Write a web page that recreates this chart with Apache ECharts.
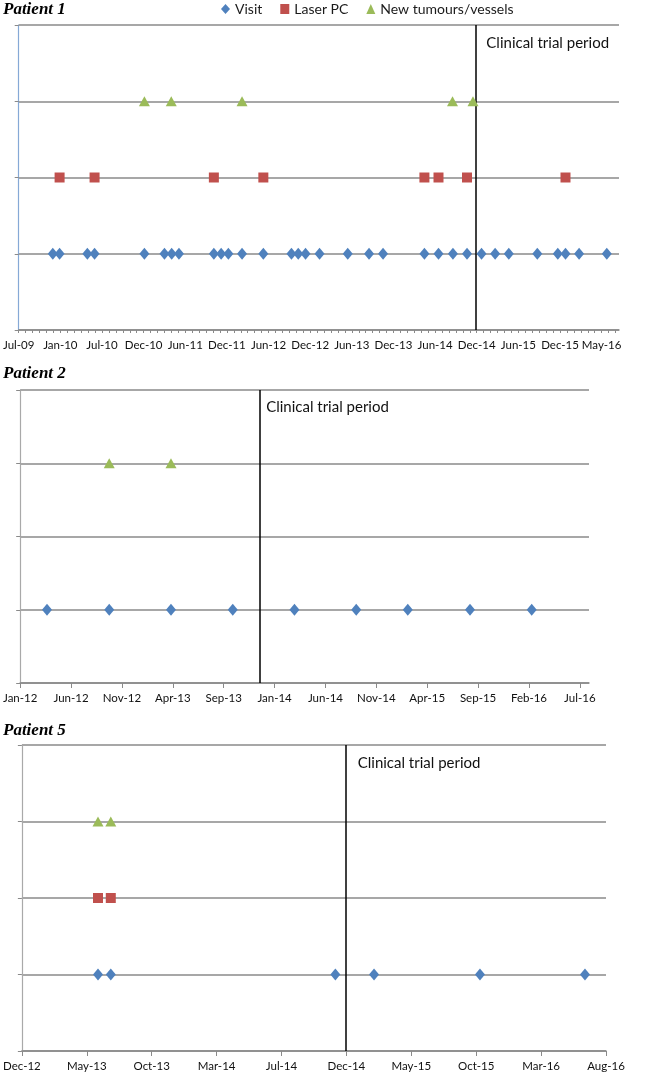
<!DOCTYPE html>
<html><head><meta charset="utf-8">
<script src="https://cdn.jsdelivr.net/npm/echarts@6/dist/echarts.min.js"></script>
<style>html,body{margin:0;padding:0;background:#fff}#c{width:669px;height:1075px}</style>
</head><body><div id="c"></div>
<script>
// Patient 1: x in month-steps from Jul-09 (a label every 6 steps)
const p1Labels = ['Jul-09','Jan-10','Jul-10','Dec-10','Jun-11','Dec-11','Jun-12','Dec-12','Jun-13','Dec-13','Jun-14','Dec-14','Jun-15','Dec-15','May-16'];
const p1Visit = [4.91,5.89,9.89,10.93,18.11,21.0,22.04,23.09,28.12,29.17,30.21,32.18,35.25,39.3,40.28,41.33,43.35,47.41,50.48,52.5,58.46,60.49,62.57,64.6,66.69,68.65,70.62,74.73,77.68,78.79,80.75,84.74];
const p1Laser = [5.89,10.93,28.12,35.25,58.46,60.49,64.6,78.79];
const p1New = [18.11,21.98,32.18,62.51,65.46];
const p1Trial = 65.8;
const p1End = 86.5;
const p1Step = 6;

// Patient 2: x in label steps from Jan-12
const p2Labels = ['Jan-12','Jun-12','Nov-12','Apr-13','Sep-13','Jan-14','Jun-14','Nov-14','Apr-15','Sep-15','Feb-16','Jul-16'];
const p2Visit = [0.527,1.750,2.964,4.178,5.391,6.605,7.618,8.841,10.054];
const p2Laser = [];
const p2New = [1.750,2.964];
const p2Trial = 4.697;
const p2End = 11.18;

// Patient 5: x in label steps from Dec-12
const p5Labels = ['Dec-12','May-13','Oct-13','Mar-14','Jul-14','Dec-14','May-15','Oct-15','Mar-16','Aug-16'];
const p5Visit = [1.173,1.370,4.830,5.426,7.058,8.676];
const p5Laser = [1.173,1.370];
const p5New = [1.173,1.370];
const p5Trial = 4.99;
const p5End = 9;

// row (y level) of each event type
const levelVisit = 1, levelLaser = 2, levelNew = 3;
const trialLabelLevel = 3.76;
const trialText = 'Clinical trial period';
const titles = ['Patient 1','Patient 2','Patient 5'];

const FONT = 'Lato, "Open Sans", sans-serif';
const GRID = '#8a8a8a';
const C_VISIT = '#4F81BD', C_LASER = '#C0504D', C_NEW = '#9BBB59';

const patients = [
  {labels:p1Labels, visit:p1Visit, laser:p1Laser, nw:p1New, trial:p1Trial, end:p1End, step:p1Step, grid:{left:18, top:25, width:601, height:305}, yLine:'#86a9d6', dist:11},
  {labels:p2Labels, visit:p2Visit, laser:p2Laser, nw:p2New, trial:p2Trial, end:p2End, step:1, grid:{left:18, top:390, width:571, height:293}, yLine:'#a9a9a9', dist:7},
  {labels:p5Labels, visit:p5Visit, laser:p5Laser, nw:p5New, trial:p5Trial, end:p5End, step:1, grid:{left:19, top:745, width:587, height:306}, yLine:'#a9a9a9', dist:12}
];
const titleTops = [1, 365, 722];

const option = {
  animation:false,
  backgroundColor:'#fff',
  title: titles.map((t,i)=>({text:t, left:3, top:titleTops[i], padding:0,
    textStyle:{fontFamily:'"Liberation Serif", serif', fontStyle:'italic', fontWeight:'bold', fontSize:17, color:'#000'}})),
  legend:{left:221, top:2, padding:0, itemGap:18, itemWidth:9, itemHeight:10,
    textStyle:{fontFamily:FONT, fontSize:14, color:'#1a1a1a'},
    data:[{name:'Visit', icon:'diamond'},{name:'Laser PC', icon:'rect'},{name:'New tumours/vessels', icon:'triangle'}]},
  grid: patients.map(p=>p.grid),
  xAxis: patients.map((p,i)=>{
    const nTicks = Math.floor(p.end);
    const tickVals = Array.from({length:nTicks+1},(_,k)=>k);
    const labelVals = p.labels.map((_,k)=>k*p.step);
    return {type:'value', gridIndex:i, min:0, max:p.end,
      axisLine:{show:true, onZero:false, lineStyle:{color:GRID, width:1.5}},
      axisTick:{show:true, customValues:tickVals, length: i===0?3:5, lineStyle:{color:GRID}},
      axisLabel:{show:true, customValues:labelVals, margin:9, fontFamily:FONT, fontSize:11.5, color:'#111',
        formatter:v=>p.labels[Math.round(v/p.step)] || ''},
      splitLine:{show:false}};
  }),
  yAxis: patients.map((p,i)=>({type:'value', gridIndex:i, min:0, max:4, interval:1,
    axisLine:{show:true, lineStyle:{color:p.yLine, width:1.2}},
    axisTick:{show:true, length:4, lineStyle:{color:GRID}},
    axisLabel:{show:false},
    splitLine:{show:true, lineStyle:{color:GRID, width:1.5}}})),
  series: []
};

patients.forEach((p,i)=>{
  option.series.push({name:'Visit', type:'scatter', xAxisIndex:i, yAxisIndex:i,
    symbol:'diamond', symbolSize:[10,12], itemStyle:{color:C_VISIT, opacity:1},
    data:p.visit.map(x=>[x, levelVisit]), z:5,
    markLine:{silent:true, symbol:['none','none'], label:{show:false},
      lineStyle:{color:'#000', width:1.5, type:'solid'}, data:[{xAxis:p.trial}]},
    markPoint:{silent:true, symbol:'circle', symbolSize:0,
      label:{show:true, position:'right', distance:p.dist, formatter:trialText,
        fontFamily:FONT, fontSize:15, color:'#111'},
      data:[{coord:[p.trial, trialLabelLevel]}]}
  });
  option.series.push({name:'Laser PC', type:'scatter', xAxisIndex:i, yAxisIndex:i,
    symbol:'rect', symbolSize:[10,10], itemStyle:{color:C_LASER, opacity:1},
    data:p.laser.map(x=>[x, levelLaser]), z:5});
  option.series.push({name:'New tumours/vessels', type:'scatter', xAxisIndex:i, yAxisIndex:i,
    symbol:'triangle', symbolSize:[11,10], itemStyle:{color:C_NEW, opacity:1},
    data:p.nw.map(x=>[x, levelNew]), z:5});
});

const chart = echarts.init(document.getElementById('c'), null, {renderer:'canvas'});
chart.setOption(option);
</script>
</body></html>
